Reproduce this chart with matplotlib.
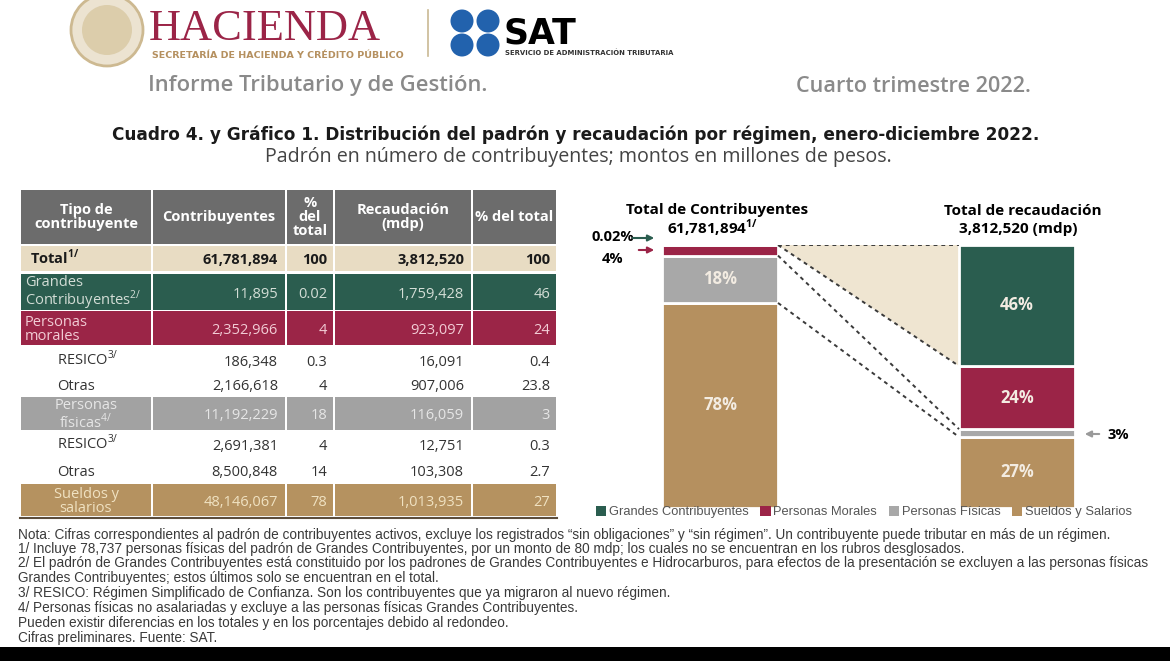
import matplotlib.pyplot as plt
from matplotlib.patches import Rectangle, Circle, Polygon, Patch
import numpy as np

# --- datos del grafico ---
categorias = ['Grandes Contribuyentes', 'Personas Morales', 'Personas Físicas', 'Sueldos y Salarios']
pct_padron = [0.02, 4, 18, 78]
pct_recaudacion = [46, 24, 3, 27]
colores = ['#2a5d4f', '#9b2447', '#a8a8a8', '#b5905f']

total_contrib = '61,781,894'
total_recaud = '3,812,520'

# --- datos de la tabla ---
tabla_encabezado = ['Tipo de\ncontribuyente', 'Contribuyentes', '%\ndel\ntotal', 'Recaudación\n(mdp)', '% del total']
tabla_tipo = ['Total', 'Grandes\nContribuyentes', 'Personas\nmorales', 'RESICO', 'Otras',
              'Personas\nfísicas', 'RESICO', 'Otras', 'Sueldos y\nsalarios']
tabla_sup = ['1/', '2/', '', '3/', '', '4/', '3/', '', '']
tabla_contrib = ['61,781,894', '11,895', '2,352,966', '186,348', '2,166,618',
                 '11,192,229', '2,691,381', '8,500,848', '48,146,067']
tabla_pct_contrib = ['100', '0.02', '4', '0.3', '4', '18', '4', '14', '78']
tabla_recaud = ['3,812,520', '1,759,428', '923,097', '16,091', '907,006',
                '116,059', '12,751', '103,308', '1,013,935']
tabla_pct_recaud = ['100', '46', '24', '0.4', '23.8', '3', '0.3', '2.7', '27']

notas = [
    'Nota: Cifras correspondientes al padrón de contribuyentes activos, excluye los registrados “sin obligaciones” y “sin régimen”. Un contribuyente puede tributar en más de un régimen.',
    '1/ Incluye 78,737 personas físicas del padrón de Grandes Contribuyentes, por un monto de 80 mdp; los cuales no se encuentran en los rubros desglosados.',
    '2/ El padrón de Grandes Contribuyentes está constituido por los padrones de Grandes Contribuyentes e Hidrocarburos, para efectos de la presentación se excluyen a las personas físicas',
    'Grandes Contribuyentes; estos últimos solo se encuentran en el total.',
    '3/ RESICO: Régimen Simplificado de Confianza. Son los contribuyentes que ya migraron al nuevo régimen.',
    '4/ Personas físicas no asalariadas y excluye a las personas físicas Grandes Contribuyentes.',
    'Pueden existir diferencias en los totales y en los porcentajes debido al redondeo.',
    'Cifras preliminares. Fuente: SAT.',
]

plt.rcParams['font.family'] = ['Open Sans', 'DejaVu Sans']
plt.rcParams['mathtext.fontset'] = 'custom'
plt.rcParams['mathtext.rm'] = 'Open Sans'

fig = plt.figure(figsize=(11.7, 6.61), dpi=100)
ov = fig.add_axes([0, 0, 1, 1])
ov.set_xlim(0, 1170)
ov.set_ylim(661, 0)
ov.axis('off')
rend = fig.canvas.get_renderer()


def ajustar(t, ancho):
    # escala el texto para que ocupe el ancho del original
    w = t.get_window_extent(rend).width
    t.set_fontsize(t.get_fontsize() * ancho / w)
    return t.get_fontsize()


# --- encabezado ---
ov.add_patch(Circle((107, 30), 36, facecolor='#ece3d1', edgecolor='#cdb991', lw=2))
ov.add_patch(Circle((107, 30), 25, facecolor='#dccdab', edgecolor='none'))
ov.text(149, 40, 'HACIENDA', fontsize=32, family='Liberation Serif', color='#9b2447', va='baseline')
t = ov.text(152, 56, 'SECRETARÍA DE HACIENDA Y CRÉDITO PÚBLICO', fontsize=6, weight='bold',
            color='#b5905f', va='center', family='DejaVu Sans')
ajustar(t, 252)
ov.plot([428, 428], [10, 56], color='#c9b993', lw=1.2)
for cx, cy in [(462, 21), (488, 21), (462, 45), (488, 45)]:
    ov.add_patch(Circle((cx, cy), 11.5, facecolor='#2262ad', edgecolor='none'))
ov.text(504, 44, 'SAT', fontsize=25, weight='black', family='DejaVu Sans', va='baseline')
t = ov.text(505, 53, 'SERVICIO DE ADMINISTRACIÓN TRIBUTARIA', fontsize=4.3, weight='bold',
            va='center', family='DejaVu Sans', color='#333333')
ajustar(t, 165)

t = ov.text(148, 86, 'Informe Tributario y de Gestión.', fontsize=14, color='#8a8a8a',
            weight='semibold', va='center')
ajustar(t, 342)
t = ov.text(1031, 86, 'Cuarto trimestre 2022.', fontsize=14, color='#8a8a8a',
            weight='semibold', va='center', ha='right')
ajustar(t, 238)

t = ov.text(576, 135, 'Cuadro 4. y Gráfico 1. Distribución del padrón y recaudación por régimen, enero-diciembre 2022.',
            fontsize=11.6, weight='bold', ha='center', va='center', color='#1a1a1a', family='DejaVu Sans')
ajustar(t, 932)
t = ov.text(578, 157, 'Padrón en número de contribuyentes; montos en millones de pesos.',
            fontsize=12.4, ha='center', va='center', color='#444444')
ajustar(t, 632)

# --- tabla ---
col_x = [20, 152, 286, 334, 472, 557]
fila_top = [246, 274, 311, 347, 374, 397, 431, 458, 484]
fila_bot = [272, 311, 346, 374, 397, 431, 458, 484, 517]
fondo = ['#e8dcc3', '#2b5d4f', '#9b2547', None, None, '#a2a2a2', None, None, '#b59260']
texto_col = ['#1a1a1a', '#d3ddd6', '#f2ccd5', '#333333', '#333333', '#e6e6e6', '#333333', '#333333', '#f0e2c2']

for j in range(5):
    ov.add_patch(Rectangle((col_x[j] + 1, 190), col_x[j + 1] - col_x[j] - 2, 54,
                           facecolor='#6c6c6c', edgecolor='none'))
    ov.text((col_x[j] + col_x[j + 1]) / 2, 217, tabla_encabezado[j], color='white',
            weight='bold', fontsize=10.5, ha='center', va='center', linespacing=1.0)

for i in range(len(tabla_tipo)):
    y0, y1 = fila_top[i], fila_bot[i]
    ym = (y0 + y1) / 2
    if fondo[i]:
        for j in range(5):
            ov.add_patch(Rectangle((col_x[j] + 1, y0), col_x[j + 1] - col_x[j] - 2, y1 - y0 - 1,
                                   facecolor=fondo[i], edgecolor='none'))
    w = 'bold' if i == 0 else 'normal'
    c = texto_col[i]
    if i == 0:
        tx, ha = 30, 'left'
    elif i in (1, 2):
        tx, ha = 25, 'left'
    elif i in (5, 8):
        tx, ha = 86, 'center'
    else:
        tx, ha = 57, 'left'
    lab = tabla_tipo[i]
    if tabla_sup[i]:
        lab = lab + r'$^{\mathregular{' + tabla_sup[i] + '}}$'
    if '\n' in lab:
        ov.text(tx, ym + 1, lab, color=c, weight=w, fontsize=10.5, ha=ha, va='center',
                linespacing=0.95)
    else:
        ov.text(tx, ym + 5, lab, color=c, weight=w, fontsize=10.5, ha=ha, va='baseline')
    yb = ym + 5
    ov.text(278, yb, tabla_contrib[i], color=c, weight=w, fontsize=10.5, ha='right', va='baseline')
    ov.text(327, yb, tabla_pct_contrib[i], color=c, weight=w, fontsize=10.5, ha='right', va='baseline')
    ov.text(464, yb, tabla_recaud[i], color=c, weight=w, fontsize=10.5, ha='right', va='baseline')
    ov.text(550, yb, tabla_pct_recaud[i], color=c, weight=w, fontsize=10.5, ha='right', va='baseline')
ov.plot([20, 557], [518, 518], color='#5c4d3c', lw=1.5)

# --- grafico de barras apiladas ---
bx0, bx1 = 580, 1170
py_top, py_bot = 245, 508
ax = fig.add_axes([bx0 / 1170, (661 - py_bot) / 661, (bx1 - bx0) / 1170, (py_bot - py_top) / 661])
ax.set_xlim(bx0, bx1)
ax.set_ylim(0, 100)
ax.axis('off')
ax.patch.set_alpha(0)

x_izq, x_der, ancho = 720, 1017, 116
orden = [3, 2, 1, 0]  # de abajo hacia arriba
base_i, base_d = 0, 0
for k in orden:
    ax.bar(x_izq, pct_padron[k], ancho, bottom=base_i, color=colores[k], edgecolor='white', lw=2)
    ax.bar(x_der, pct_recaudacion[k], ancho, bottom=base_d, color=colores[k], edgecolor='white', lw=2)
    if pct_padron[k] >= 10:
        ax.text(x_izq, base_i + pct_padron[k] / 2, f'{pct_padron[k]}%', ha='center', va='center',
                color='#f3ece2', weight='bold', fontsize=12)
    if pct_recaudacion[k] >= 10:
        ax.text(x_der, base_d + pct_recaudacion[k] / 2, f'{pct_recaudacion[k]}%', ha='center',
                va='center', color='#f3ece2', weight='bold', fontsize=12)
    base_i += pct_padron[k]
    base_d += pct_recaudacion[k]

# lineas de conexion entre fronteras acumuladas
ri = x_izq + ancho / 2
ld = x_der - ancho / 2
cum_i = 100 - np.cumsum(pct_padron)
cum_d = 100 - np.cumsum(pct_recaudacion)
ax.add_patch(Polygon([(ri, 100), (ld, 100), (ld, cum_d[0])], facecolor='#efe5d1', edgecolor='none', zorder=0))
ax.plot([ri, ld], [100, 100], ls=(0, (2, 2)), color='#3a3a3a', lw=1.4)
for k in range(3):
    ax.plot([ri, ld], [cum_i[k], cum_d[k]], ls=(0, (2, 2)), color='#3a3a3a', lw=1.4)

# titulos de barras
ov.text(717, 210, 'Total de Contribuyentes', weight='bold', fontsize=11, ha='center', va='center')
ov.text(712, 228, total_contrib + r'$^{\mathregular{1/}}$', weight='bold', fontsize=11,
        ha='center', va='center')
ov.text(1023, 211, 'Total de recaudación', weight='bold', fontsize=11, ha='center', va='center')
ov.text(1018, 229, total_recaud + ' (mdp)', weight='bold', fontsize=11, ha='center', va='center')

ov.text(591, 237, '0.02%', weight='bold', fontsize=10.5, va='center')
ov.annotate('', xy=(657, 238), xytext=(630, 238),
            arrowprops=dict(arrowstyle='-|>', color=colores[0], lw=1.5, mutation_scale=9))
ov.text(602, 259, '4%', weight='bold', fontsize=10.5, va='center')
ov.annotate('', xy=(657, 250), xytext=(636, 250),
            arrowprops=dict(arrowstyle='-|>', color=colores[1], lw=1.5, mutation_scale=9))
ov.text(1108, 435, '3%', weight='bold', fontsize=10.5, va='center')
ov.annotate('', xy=(1082, 434), xytext=(1102, 434),
            arrowprops=dict(arrowstyle='-|>', color='#9a9a9a', lw=1.5, mutation_scale=9))

handles = [Patch(facecolor=c) for c in colores]
fig.legend(handles, categorias, loc='center', bbox_to_anchor=(864 / 1170, (661 - 512) / 661),
           ncol=4, frameon=False, handlelength=0.8, handleheight=0.9, handletextpad=0.2,
           columnspacing=0.9, prop={'family': 'Liberation Sans', 'size': 9.3},
           labelcolor='#555555')

# --- notas ---
t2 = ov.text(18, 563, notas[2], fontsize=9, va='center', color='#3a3a3a', family='Liberation Sans')
fs = ajustar(t2, 1128)
for n, y in zip(notas, [535, 549, 563, 578, 593, 608, 623, 638]):
    if n is notas[2]:
        continue
    ov.text(18, y, n, fontsize=fs, va='center', color='#3a3a3a', family='Liberation Sans')

ov.add_patch(Rectangle((0, 647), 1170, 14, facecolor='black', edgecolor='none'))

fig.savefig('out.png', dpi=100)
